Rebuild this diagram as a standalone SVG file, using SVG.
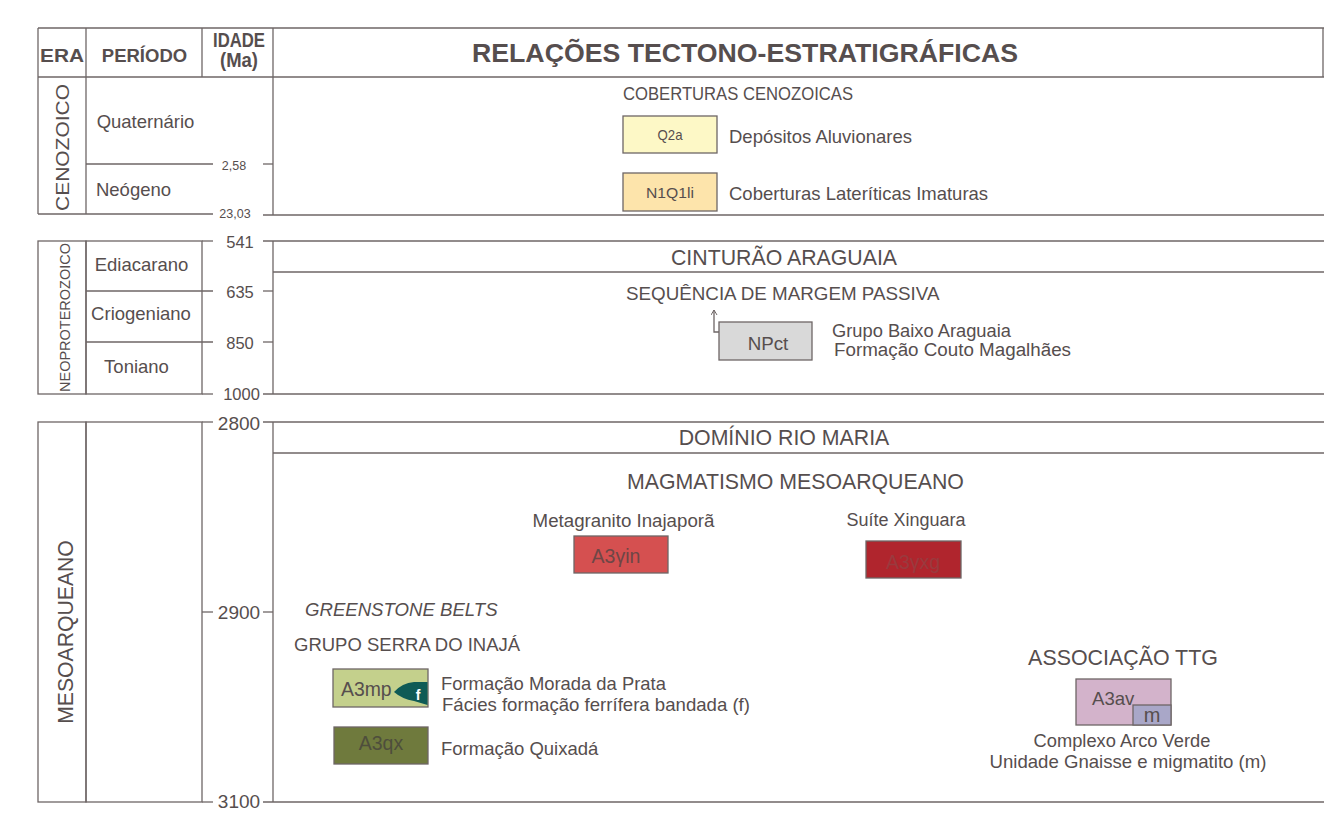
<svg xmlns="http://www.w3.org/2000/svg" width="1324" height="835" viewBox="0 0 1324 835">
<defs>
<style>
.ln{stroke:#6e6666;stroke-width:1.3;fill:none}
.t{font-family:"Liberation Sans",Arial,sans-serif;fill:#564e4e}
.b{font-weight:bold}
.box{stroke:#6e6666;stroke-width:1.3}
</style>
<marker id="ah" markerWidth="8" markerHeight="8" refX="5" refY="3" orient="auto" markerUnits="userSpaceOnUse">
<path d="M0,0 L5,3 L0,6" fill="none" stroke="#6e6666" stroke-width="1"/>
</marker>
</defs>
<rect width="1324" height="835" fill="#ffffff"/>

<g id="frame">
<line class="ln" x1="38" y1="28" x2="1324" y2="28"/>
<line class="ln" x1="38" y1="77" x2="1324" y2="77"/>
<line class="ln" x1="38" y1="28" x2="38" y2="77"/>
<line class="ln" x1="86" y1="28" x2="86" y2="77"/>
<line class="ln" x1="202" y1="28" x2="202" y2="77"/>
<line class="ln" x1="273" y1="28" x2="273" y2="77"/>
<line class="ln" x1="1323" y1="28" x2="1323" y2="77"/>
<text class="t b" x="62" y="62" font-size="19" text-anchor="middle" textLength="44" lengthAdjust="spacingAndGlyphs">ERA</text>
<text class="t b" x="144.5" y="62" font-size="18.5" text-anchor="middle">PERÍODO</text>
<text class="t b" x="239" y="47" font-size="19.5" text-anchor="middle" textLength="52" lengthAdjust="spacingAndGlyphs">IDADE</text>
<text class="t b" x="239" y="67" font-size="19.5" text-anchor="middle" textLength="38" lengthAdjust="spacingAndGlyphs">(Ma)</text>
<text class="t b" x="745" y="62" font-size="26.5" text-anchor="middle" textLength="546" lengthAdjust="spacingAndGlyphs">RELAÇÕES TECTONO-ESTRATIGRÁFICAS</text>
</g>

<g id="cenozoico">
<line class="ln" x1="38" y1="77" x2="38" y2="214"/>
<line class="ln" x1="86" y1="77" x2="86" y2="214"/>
<line class="ln" x1="86" y1="164" x2="213" y2="164"/>
<line class="ln" x1="38" y1="214" x2="213" y2="214"/>
<line class="ln" x1="263" y1="164" x2="273" y2="164"/>
<line class="ln" x1="263" y1="215" x2="1324" y2="215"/>
<line class="ln" x1="273" y1="77" x2="273" y2="215"/>
<text class="t" x="0" y="0" font-size="19" text-anchor="middle" textLength="127" lengthAdjust="spacingAndGlyphs" transform="translate(69,147.5) rotate(-90)">CENOZOICO</text>
<text class="t" x="145.5" y="128" font-size="18.5" text-anchor="middle">Quaternário</text>
<text class="t" x="133.5" y="196" font-size="18.5" text-anchor="middle">Neógeno</text>
<text class="t" x="234" y="170" font-size="12.5" text-anchor="middle">2,58</text>
<text class="t" x="235" y="218" font-size="12.5" text-anchor="middle">23,03</text>
<text class="t" x="623" y="100" font-size="19" textLength="230" lengthAdjust="spacingAndGlyphs">COBERTURAS CENOZOICAS</text>
</g>

<g id="q2a">
<rect class="box" x="623" y="116" width="94" height="37" fill="#fdf8c6"/>
<text class="t" x="670" y="140" font-size="15" text-anchor="middle" textLength="25" lengthAdjust="spacingAndGlyphs">Q2a</text>
<text class="t" x="729" y="143" font-size="18.5">Depósitos Aluvionares</text>
</g>
<g id="n1q1li">
<rect class="box" x="623" y="173" width="94" height="38" fill="#fde4ab"/>
<text class="t" x="670" y="198" font-size="15" text-anchor="middle" textLength="48" lengthAdjust="spacingAndGlyphs">N1Q1li</text>
<text class="t" x="729" y="200" font-size="18.5">Coberturas Lateríticas Imaturas</text>
</g>

<g id="neoproterozoico">
<rect class="ln" x="38" y="241" width="48" height="153"/>
<rect class="ln" x="86" y="241" width="116" height="153"/>
<line class="ln" x1="86" y1="291" x2="213" y2="291"/>
<line class="ln" x1="86" y1="342" x2="213" y2="342"/>
<line class="ln" x1="202" y1="241" x2="213" y2="241"/>
<line class="ln" x1="202" y1="394" x2="213" y2="394"/>
<line class="ln" x1="263" y1="241" x2="1324" y2="241"/>
<line class="ln" x1="263" y1="291" x2="273" y2="291"/>
<line class="ln" x1="263" y1="342" x2="273" y2="342"/>
<line class="ln" x1="263" y1="394" x2="1324" y2="394"/>
<line class="ln" x1="273" y1="241" x2="273" y2="394"/>
<line class="ln" x1="273" y1="272" x2="1324" y2="272"/>
<text class="t" x="0" y="0" font-size="14.5" text-anchor="middle" textLength="149" lengthAdjust="spacingAndGlyphs" transform="translate(70,317.5) rotate(-90)">NEOPROTEROZOICO</text>
<text class="t" x="141.5" y="271" font-size="18.5" text-anchor="middle">Ediacarano</text>
<text class="t" x="141" y="320" font-size="18.5" text-anchor="middle">Criogeniano</text>
<text class="t" x="136.5" y="373" font-size="18.5" text-anchor="middle">Toniano</text>
<text class="t" x="240" y="248" font-size="16.5" text-anchor="middle">541</text>
<text class="t" x="240" y="298" font-size="16.5" text-anchor="middle">635</text>
<text class="t" x="240" y="349" font-size="16.5" text-anchor="middle">850</text>
<text class="t" x="241.5" y="400" font-size="16.5" text-anchor="middle">1000</text>
<text class="t" x="784" y="265" font-size="21.3" text-anchor="middle">CINTURÃO ARAGUAIA</text>
<text class="t" x="626" y="300" font-size="18.8">SEQUÊNCIA DE MARGEM PASSIVA</text>
</g>

<g id="npct">
<rect class="box" x="719" y="322" width="93" height="38" fill="#d9d9d9"/>
<text class="t" x="768" y="350" font-size="18.8" text-anchor="middle">NPct</text>
<text class="t" x="832" y="337" font-size="18.3">Grupo Baixo Araguaia</text>
<text class="t" x="834" y="356" font-size="18.8">Formação Couto Magalhães</text>
</g>

<g id="connectors">
<polyline class="ln" points="719,332 714,332 714,310" stroke-width="1" marker-end="url(#ah)"/>
</g>

<g id="mesoarqueano">
<rect class="ln" x="38" y="422" width="48" height="380"/>
<rect class="ln" x="86" y="422" width="116" height="380"/>
<line class="ln" x1="202" y1="422" x2="213" y2="422"/>
<line class="ln" x1="202" y1="612" x2="213" y2="612"/>
<line class="ln" x1="202" y1="802" x2="213" y2="802"/>
<line class="ln" x1="263" y1="422" x2="1324" y2="422"/>
<line class="ln" x1="263" y1="612" x2="273" y2="612"/>
<line class="ln" x1="263" y1="802" x2="1324" y2="802"/>
<line class="ln" x1="273" y1="422" x2="273" y2="802"/>
<line class="ln" x1="273" y1="453" x2="1324" y2="453"/>
<text class="t" x="0" y="0" font-size="21.2" text-anchor="middle" transform="translate(73,632) rotate(-90)">MESOARQUEANO</text>
<text class="t" x="239" y="430" font-size="19" text-anchor="middle">2800</text>
<text class="t" x="239" y="619" font-size="19" text-anchor="middle">2900</text>
<text class="t" x="239" y="808" font-size="19" text-anchor="middle">3100</text>
<text class="t" x="784" y="445" font-size="21.3" text-anchor="middle">DOMÍNIO RIO MARIA</text>
<text class="t" x="627" y="489" font-size="21.3">MAGMATISMO MESOARQUEANO</text>
<text class="t" x="305" y="616" font-size="18.6" font-style="italic">GREENSTONE BELTS</text>
<text class="t" x="294" y="651" font-size="18.5">GRUPO SERRA DO INAJÁ</text>
<text class="t" x="1123" y="665" font-size="21.4" text-anchor="middle">ASSOCIAÇÃO TTG</text>
</g>

<g id="a3yin">
<text class="t" x="623.5" y="527" font-size="18.7" text-anchor="middle">Metagranito Inajaporã</text>
<rect class="box" x="574" y="536" width="94" height="37" fill="#d55050"/>
<text x="616" y="563" font-size="19.5" text-anchor="middle" font-family="Liberation Sans,Arial,sans-serif" fill="#6e4646">A3γin</text>
</g>
<g id="a3yxg">
<text class="t" x="906" y="526" font-size="18" text-anchor="middle">Suíte Xinguara</text>
<rect class="box" x="866" y="541" width="95" height="37" fill="#b0252d"/>
<text x="913" y="569" font-size="19.5" text-anchor="middle" font-family="Liberation Sans,Arial,sans-serif" fill="#9a3a3e">A3γxg</text>
</g>

<g id="a3mp">
<rect class="box" x="333" y="669" width="95" height="38" fill="#c4d08c"/>
<text class="t" x="341" y="696" font-size="19.4">A3mp</text>
<path d="M427.5,682 L414,682 Q402,683 394,692 Q402,699 414,701 L427.5,705 Z" fill="#0f5b56"/>
<text x="418" y="700" font-size="14" font-weight="bold" fill="#ffffff" font-family="Liberation Sans,Arial,sans-serif" text-anchor="middle">f</text>
<text class="t" x="441" y="690" font-size="18.4">Formação Morada da Prata</text>
<text class="t" x="442" y="711" font-size="18.6">Fácies formação ferrífera bandada (f)</text>
</g>
<g id="a3qx">
<rect class="box" x="334" y="727" width="94" height="37" fill="#6f7a3d"/>
<text x="381" y="750" font-size="19.5" text-anchor="middle" font-family="Liberation Sans,Arial,sans-serif" fill="#4e4e3c">A3qx</text>
<text class="t" x="441" y="755" font-size="18.5">Formação Quixadá</text>
</g>

<g id="a3av">
<rect class="box" x="1076" y="679" width="95" height="46" fill="#d3b3cb"/>
<text class="t" x="1092" y="705" font-size="18.6">A3av</text>
<rect class="box" x="1133" y="705" width="38" height="20" fill="#a9a7c8"/>
<text class="t" x="1152" y="722" font-size="20" text-anchor="middle">m</text>
<text class="t" x="1122" y="747" font-size="18.3" text-anchor="middle">Complexo Arco Verde</text>
<text class="t" x="1128" y="768" font-size="18.6" text-anchor="middle">Unidade Gnaisse e migmatito (m)</text>
</g>
</svg>
